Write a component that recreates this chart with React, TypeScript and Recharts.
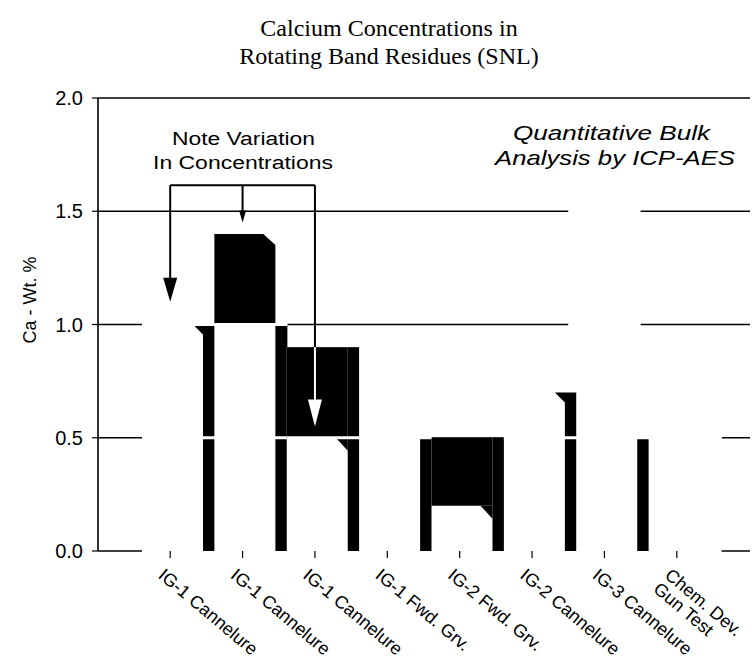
import React from "react";
import {
  ComposedChart,
  Bar,
  XAxis,
  YAxis,
  CartesianGrid,
  ReferenceLine,
  ReferenceArea,
} from "recharts";

// one key per bar, because three bars share the same name
const keys = ["c1", "c2", "c3", "c4", "c5", "c6", "c7", "c8"];
const categories = [
  "IG-1 Cannelure",
  "IG-1 Cannelure",
  "IG-1 Cannelure",
  "IG-1 Fwd. Grv.",
  "IG-2 Fwd. Grv.",
  "IG-2 Cannelure",
  "IG-3 Cannelure",
  "Chem. Dev.\nGun Test",
];
// bar height, Ca wt. %
const caWt = [1.05, 1.4, 0.9, 0.9, 0.5, 0.7, 0.8, 0.55];
// dark (side face) part of each bar, from 0 up to this value
const darkSide = [1.0, 1.0, 0.9, 0.5, 0.5, 0.7, 0.5, 0];
// dark part of the front face, [low, high]
const darkFrontLow = [null, 1.0, 0.5, null, 0.2, null, null, null];
const darkFrontHigh = [null, 1.4, 0.9, null, 0.5, null, null, null];

const yTicks = [0, 0.5, 1.0, 1.5, 2.0];
const gridValues = [0.5, 1.0];

// "Note Variation" bracket
const bracketTop = 1.615;
const noteArrows = [
  { key: "c1", to: 1.1 },
  { key: "c2", to: 1.45 },
];
const c3Arrow = { key: "c3", blackTo: 0.9, to: 0.55 };

const data = keys.map((k, i) => ({
  key: k,
  name: categories[i],
  ca: caWt[i],
  side: darkSide[i],
  lo: darkFrontLow[i],
  hi: darkFrontHigh[i],
}));

const SANS = "'Liberation Sans', Arial, Helvetica, sans-serif";
const SERIF = "'Liberation Serif', 'Times New Roman', serif";

function Bar3D(props: any) {
  const { x, y, width, height, payload } = props;
  const v = payload.ca;
  if (!v || !height) return null;
  const base = y + height;
  const ppu = height / v;
  const toY = (val: number) => base - val * ppu;
  const cx = x + width / 2;
  const fL = cx - 28;
  const fR = cx + 33;
  const sR = cx + 45;
  const parts: any[] = [];

  parts.push(<rect key="bg" x={fL} y={y} width={sR - fL} height={height + 2} fill="#fff" />);

  if (payload.side > 0) {
    const top = toY(payload.side);
    if (payload.hi == null && v - payload.side < 0.1) {
      parts.push(
        <polygon
          key="side"
          points={`${fR - 10},${top} ${sR},${top} ${sR},${base} ${fR},${base} ${fR},${top + 10}`}
          fill="#000"
        />
      );
    } else {
      parts.push(<rect key="side" x={fR} y={top} width={sR - fR} height={base - top} fill="#000" />);
    }
  }

  if (payload.hi != null) {
    const lo = toY(payload.lo);
    const hi = toY(payload.hi);
    if (payload.hi > payload.side) {
      parts.push(
        <polygon
          key="front"
          points={`${fL},${hi} ${fR - 12},${hi} ${fR},${hi + 11} ${fR},${lo} ${fL},${lo}`}
          fill="#000"
        />
      );
    } else {
      parts.push(<rect key="front" x={fL} y={hi} width={fR - fL} height={lo - hi} fill="#000" />);
      if (payload.lo > 0 && payload.side > payload.lo) {
        parts.push(
          <polygon key="notch" points={`${fR - 12},${lo} ${fR},${lo} ${fR},${lo + 13}`} fill="#000" />
        );
      }
    }
  }

  gridValues.forEach((g) => {
    if (g < v) {
      parts.push(<rect key={"g" + g} x={fL} y={toY(g) - 1.5} width={sR - fL} height={3} fill="#fff" />);
    }
  });

  return <g>{parts}</g>;
}

function arrowShape(headW: number, headH: number, color: string) {
  return (p: any) => {
    const { x1, y1, x2, y2 } = p;
    const yEnd = y2 - headH;
    return (
      <g>
        <line x1={x1} y1={y1} x2={x2} y2={yEnd + 1} stroke={color} strokeWidth={2} />
        <polygon
          points={`${x2 - headW / 2},${yEnd} ${x2 + headW / 2},${yEnd} ${x2},${y2}`}
          fill={color}
        />
      </g>
    );
  };
}

function CategoryTick(props: any) {
  const { x, y, payload } = props;
  const i = keys.indexOf(payload.value);
  const lines = categories[i].split("\n");
  const ax = x - 13;
  const ay = y + 17;
  return (
    <text
      x={ax}
      y={ay}
      transform={`rotate(40 ${ax} ${ay})`}
      fontFamily={SANS}
      fontSize={18}
      fill="#000"
    >
      {lines.map((t, j) => (
        <tspan key={j} x={ax} dy={j === 0 ? 0 : 18}>
          {t}
        </tspan>
      ))}
    </text>
  );
}

export default function App() {
  return (
    <div style={{ position: "absolute", left: 0, top: 0, width: 754, height: 668, background: "#fff" }}>
      <ComposedChart
        width={754}
        height={668}
        data={data}
        margin={{ top: 98, right: 4, bottom: 0, left: 0 }}
        barCategoryGap={0}
      >
        <CartesianGrid vertical={false} stroke="#000" strokeWidth={1.6} zIndex={-100} />
        <XAxis
          dataKey="key"
          height={117}
          padding={{ left: 36, right: 37 }}
          axisLine={false}
          tickLine={{ stroke: "#000", strokeWidth: 1.2 }}
          tickSize={7}
          tick={<CategoryTick />}
          interval={0}
        />
        <YAxis
          width={98}
          domain={[0, 2]}
          ticks={yTicks}
          tickFormatter={(v: number) => v.toFixed(1)}
          axisLine={{ stroke: "#000", strokeWidth: 1.6 }}
          tickLine={{ stroke: "#000", strokeWidth: 1.2 }}
          tickSize={6}
          tickMargin={9}
          tick={{ fill: "#000", fontSize: 20, fontFamily: SANS }}
        />
        <YAxis
          yAxisId="right"
          orientation="right"
          width={0}
          domain={[0, 2]}
          tick={false}
          tickLine={false}
          axisLine={{ stroke: "#000", strokeWidth: 1.6 }}
        />
        <Bar dataKey="ca" shape={<Bar3D />} isAnimationActive={false} zIndex={300} />
        <ReferenceArea
          x1="c7"
          x2="c7"
          y1={0.9}
          y2={1.56}
          fill="#fff"
          fillOpacity={1}
          stroke="none"
          zIndex={400}
        />
        <ReferenceLine
          segment={[
            { x: "c1", y: bracketTop },
            { x: "c3", y: bracketTop },
          ]}
          stroke="#000"
          strokeWidth={2}
        />
        {noteArrows.map((a, i) => (
          <ReferenceLine
            key={a.key}
            segment={[
              { x: a.key, y: bracketTop },
              { x: a.key, y: a.to },
            ]}
            stroke="#000"
            shape={i === 0 ? arrowShape(14, 24, "#000") : arrowShape(7, 12, "#000")}
          />
        ))}
        <ReferenceLine
          segment={[
            { x: c3Arrow.key, y: bracketTop },
            { x: c3Arrow.key, y: c3Arrow.blackTo },
          ]}
          stroke="#000"
          strokeWidth={2}
        />
        <ReferenceLine
          segment={[
            { x: c3Arrow.key, y: c3Arrow.blackTo },
            { x: c3Arrow.key, y: c3Arrow.to },
          ]}
          stroke="#fff"
          shape={arrowShape(14, 27, "#fff")}
        />
      </ComposedChart>
      <svg
        width={754}
        height={668}
        style={{ position: "absolute", left: 0, top: 0, pointerEvents: "none" }}
      >
        <text x={389} y={36} textAnchor="middle" fontFamily={SERIF} fontSize={24} fill="#000">
          Calcium Concentrations in
        </text>
        <text x={389} y={64} textAnchor="middle" fontFamily={SERIF} fontSize={24} fill="#000">
          Rotating Band Residues (SNL)
        </text>
        <text
          x={30}
          y={300}
          transform="rotate(-90 30 300)"
          textAnchor="middle"
          dominantBaseline="central"
          fontFamily={SANS}
          fontSize={18}
          fill="#000"
        >
          Ca - Wt. %
        </text>
        <text x={172} y={145} fontFamily={SANS} fontSize={18} textLength={143} lengthAdjust="spacingAndGlyphs" fill="#000">
          Note Variation
        </text>
        <text x={153} y={169} fontFamily={SANS} fontSize={18} textLength={180} lengthAdjust="spacingAndGlyphs" fill="#000">
          In Concentrations
        </text>
        <text x={513} y={140} fontFamily={SANS} fontStyle="italic" fontSize={21} textLength={197} lengthAdjust="spacingAndGlyphs" fill="#000">
          Quantitative Bulk
        </text>
        <text x={495} y={165} fontFamily={SANS} fontStyle="italic" fontSize={21} textLength={240} lengthAdjust="spacingAndGlyphs" fill="#000">
          Analysis by ICP-AES
        </text>
      </svg>
    </div>
  );
}
